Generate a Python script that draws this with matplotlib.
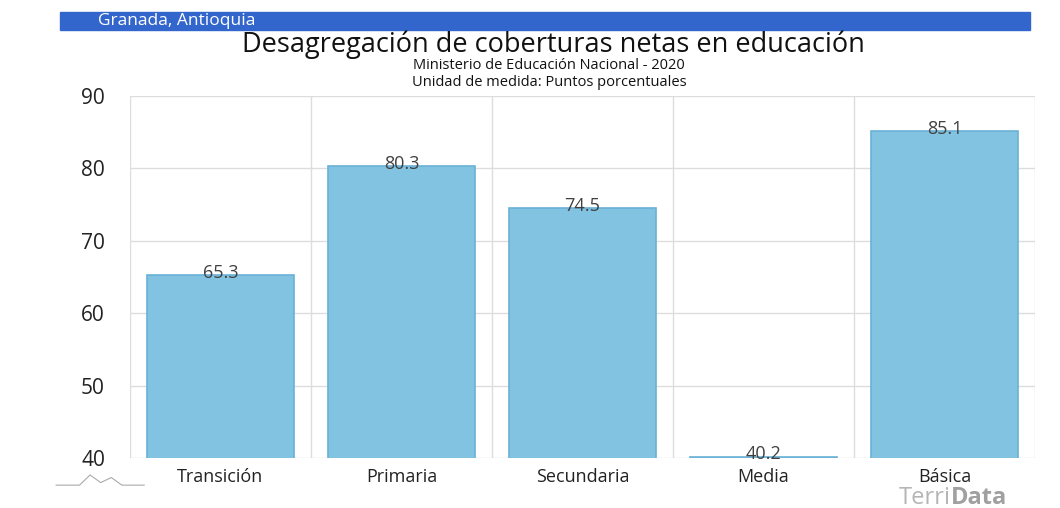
import matplotlib.pyplot as plt
from matplotlib.patches import Rectangle
import numpy as np

categorias = ['Transición', 'Primaria', 'Secundaria', 'Media', 'Básica']
valores = [65.3, 80.3, 74.5, 40.2, 85.1]
yticks = [40, 50, 60, 70, 80, 90]

plt.rcParams['font.family'] = ['Open Sans', 'DejaVu Sans']

fig = plt.figure(figsize=(10.6, 5.08), dpi=100)
ax = fig.add_axes([0.1226, 0.0984, 0.8538, 0.7126])

x = np.arange(len(categorias))
ax.bar(x, valores, width=0.81, color='#82c3e2', edgecolor='#6ab2d6',
       linewidth=1.2, zorder=3)
for xi, v in zip(x, valores):
    ax.text(xi, v + 0.3, f'{v:.1f}', ha='center', va='center', fontsize=13,
            color='#404040', zorder=4)

ax.set_ylim(40, 90)
ax.set_xlim(-0.5, len(categorias) - 0.5)
ax.set_yticks(yticks)
ax.set_yticklabels([str(t) for t in yticks], fontsize=15, color='#222222')
ax.set_xticks(x)
ax.set_xticklabels(categorias, fontsize=13, color='#222222')
ax.tick_params(length=0)
ax.tick_params(axis='y', pad=18)
ax.tick_params(axis='x', pad=7)

# grid: horizontal at ticks, vertical at category boundaries
for t in yticks:
    ax.axhline(t, color='#dddddd', lw=1, zorder=1)
for b in np.arange(-0.5, len(categorias), 1):
    ax.axvline(b, color='#dddddd', lw=1, zorder=1)
for s in ax.spines.values():
    s.set_visible(False)

# banner
fig.patches.append(Rectangle((0.0566, 0.941), 0.915, 0.0354, transform=fig.transFigure,
                             color='#3366cc', zorder=0))
fig.text(0.092, 0.958, 'Granada, Antioquia', color='white', fontsize=12.5, va='center')

fig.text(0.522, 0.911, 'Desagregación de coberturas netas en educación',
         ha='center', va='center', fontsize=19.5, color='#111111')
fig.text(0.518, 0.872, 'Ministerio de Educación Nacional - 2020',
         ha='center', va='center', fontsize=10.5, color='#111111')
fig.text(0.518, 0.837, 'Unidad de medida: Puntos porcentuales',
         ha='center', va='center', fontsize=10.5, color='#111111')

# logo: "Terri" + bold "Data", small mountain line at bottom left
terri = fig.text(0.848, 0.008, 'Terri', fontsize=17, color='#b5b5b5', va='baseline')
ax.annotate('Data', xy=(1, 0), xycoords=terri, xytext=(0, 0), textcoords='offset points',
            fontsize=17, color='#a0a0a0', fontweight='bold', va='bottom', ha='left',
            annotation_clip=False)
mx = np.array([0.053, 0.075, 0.085, 0.095, 0.105, 0.115, 0.136])
my = np.array([0.045, 0.045, 0.065, 0.05, 0.06, 0.045, 0.045])
fig.add_artist(plt.Line2D(mx, my, color='#aaaaaa', lw=0.8, transform=fig.transFigure))

fig.savefig('out.png', dpi=100)
